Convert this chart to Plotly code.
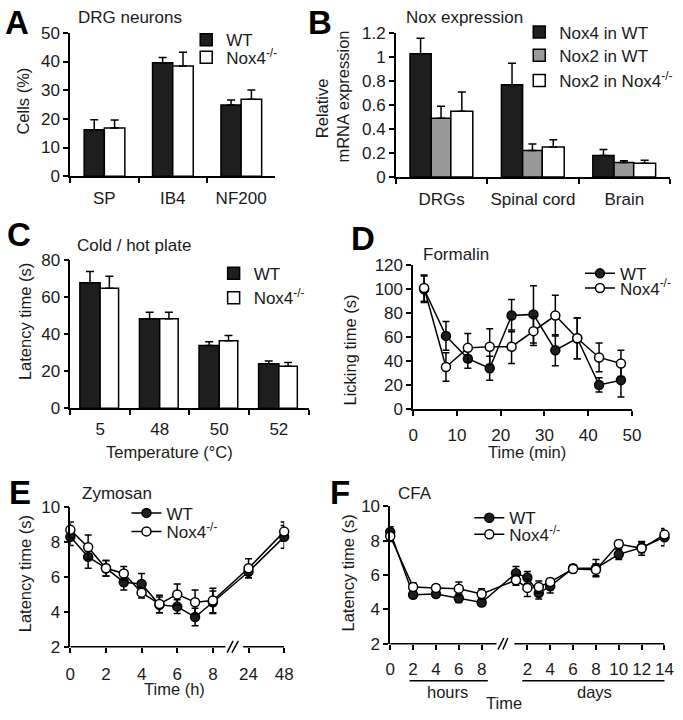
import plotly.graph_objects as go

# ---------------- data ----------------
# Panel A: DRG neurons
A_categories = ["SP", "IB4", "NF200"]
A_wt = [16.2, 39.6, 24.8]
A_wt_err = [3.5, 1.8, 1.8]
A_ko = [16.8, 38.4, 26.8]
A_ko_err = [2.8, 4.8, 3.3]

# Panel B: Nox expression
B_categories = ["DRGs", "Spinal cord", "Brain"]
B_nox4_wt = [1.03, 0.77, 0.18]
B_nox4_wt_err = [0.13, 0.18, 0.05]
B_nox2_wt = [0.49, 0.22, 0.12]
B_nox2_wt_err = [0.10, 0.055, 0.015]
B_nox2_ko = [0.55, 0.25, 0.115]
B_nox2_ko_err = [0.16, 0.06, 0.025]

# Panel C: Cold / hot plate
C_categories = ["5", "48", "50", "52"]
C_wt = [68, 48.5, 34, 24]
C_wt_err = [6, 3.5, 2, 1.5]
C_ko = [65, 48.5, 36.5, 22.7]
C_ko_err = [6.5, 3.5, 2.8, 2]

# Panel D: Formalin
D_time = [2.5, 7.5, 12.5, 17.5, 22.5, 27.5, 32.5, 37.5, 42.5, 47.5]
D_wt = [100, 61, 42, 34, 78, 79, 49, 59, 20, 24]
D_wt_err = [11, 12, 8, 10, 13.5, 24, 13, 17, 6, 14]
D_ko = [101, 35, 51, 52, 52, 65, 78, 59, 43, 38]
D_ko_err = [11, 12, 12, 15, 14, 12, 17, 17, 12, 11]

# Panel E: Zymosan (hours)
E_time = [0, 1, 2, 3, 4, 5, 6, 7, 8, 24, 48]
E_wt = [8.3, 7.15, 6.5, 5.7, 5.6, 4.4, 4.3, 3.7, 4.55, 6.3, 8.3]
E_wt_err = [0.5, 0.65, 0.45, 0.45, 0.6, 0.45, 0.4, 0.5, 0.65, 0.35, 0.65]
E_ko = [8.7, 7.7, 6.5, 6.2, 5.1, 4.45, 5.0, 4.55, 4.65, 6.5, 8.6]
E_ko_err = [0.45, 0.7, 0.45, 0.4, 0.3, 0.5, 0.6, 0.7, 0.7, 0.55, 0.55]
E_tick_labels = [0, 2, 4, 6, 8, 24, 48]

# Panel F: CFA (hours then days)
F_hours = [0, 2, 4, 6, 8]
F_days = [1, 2, 3, 4, 6, 8, 10, 12, 14]
F_wt = [8.5, 4.85, 4.9, 4.65, 4.4, 6.1, 5.85, 4.95, 5.35, 6.4, 6.4, 7.2, 7.6, 8.2]
F_wt_err = [0.3, 0.2, 0.2, 0.25, 0.2, 0.4, 0.35, 0.35, 0.4, 0.2, 0.5, 0.3, 0.3, 0.5]
F_ko = [8.25, 5.3, 5.25, 5.2, 4.9, 5.7, 5.25, 5.3, 5.6, 6.35, 6.3, 7.8, 7.55, 8.35]
F_ko_err = [0.3, 0.25, 0.15, 0.4, 0.3, 0.3, 0.5, 0.35, 0.2, 0.2, 0.35, 0.2, 0.4, 0.25]
F_hour_ticks = [0, 2, 4, 6, 8]
F_day_ticks = [2, 4, 6, 8, 10, 12, 14]

# ---------------- helpers ----------------
W, H = 683, 720
def px(x):
    return x / W
def py(y):
    return 1 - y / H

FONT = "Arial, 'Liberation Sans', Helvetica, sans-serif"
TXT = "#1a1a1a"
DARK = "#1e1e1e"
GRAY = "#999999"
SUP = "Nox4<sup>-/-</sup>"

# broken-axis positions (layout mapping of time values to axis positions)
E_break_pos = {24: 10, 48: 12}
def e_pos(t):
    return t if t <= 8 else E_break_pos[t]
E_x = [e_pos(t) for t in E_time]
DAY_OFFSET = 10
F_x = list(F_hours) + [DAY_OFFSET + d for d in F_days]

fig = go.Figure()

def bar(x, y, err, color, name, xa, ya, offset, width, legend):
    fig.add_trace(go.Bar(
        x=x, y=y, name=name, xaxis=xa, yaxis=ya, offset=offset, width=width,
        marker=dict(color=color, line=dict(color="black", width=1.5)),
        error_y=dict(type="data", array=err, arrayminus=[0] * len(err), symmetric=False,
                     color="black", thickness=1.5, width=4),
        legend=legend, showlegend=True))

def line(x, y, err, filled, name, xa, ya, legend):
    fig.add_trace(go.Scatter(
        x=x, y=y, name=name, xaxis=xa, yaxis=ya, mode="lines+markers",
        line=dict(color="black", width=1.5),
        marker=dict(size=9, color=DARK if filled else "white", line=dict(color="black", width=1.5)),
        error_y=dict(type="data", array=err, color="black", thickness=1.5, width=3.5),
        cliponaxis=False, legend=legend, showlegend=True))

# A
bar(A_categories, A_wt, A_wt_err, DARK, "WT", "x", "y", -0.295, 0.295, "legend")
bar(A_categories, A_ko, A_ko_err, "white", SUP, "x", "y", 0.0, 0.3, "legend2")
# B
bar(B_categories, B_nox4_wt, B_nox4_wt_err, DARK, "Nox4 in WT", "x2", "y2", -0.345, 0.232, "legend3")
bar(B_categories, B_nox2_wt, B_nox2_wt_err, GRAY, "Nox2 in WT", "x2", "y2", -0.113, 0.215, "legend4")
bar(B_categories, B_nox2_ko, B_nox2_ko_err, "white", "Nox2 in " + SUP, "x2", "y2", 0.102, 0.24, "legend5")
# C
bar(C_categories, C_wt, C_wt_err, DARK, "WT", "x3", "y3", -0.34, 0.34, "legend6")
bar(C_categories, C_ko, C_ko_err, "white", SUP, "x3", "y3", 0.0, 0.31, "legend7")
# D
line(D_time, D_wt, D_wt_err, True, "WT", "x4", "y4", "legend8")
line(D_time, D_ko, D_ko_err, False, SUP, "x4", "y4", "legend9")
# E
line(E_x, E_wt, E_wt_err, True, "WT", "x5", "y5", "legend10")
line(E_x, E_ko, E_ko_err, False, SUP, "x5", "y5", "legend11")
# F
line(F_x, F_wt, F_wt_err, True, "WT", "x6", "y6", "legend12")
line(F_x, F_ko, F_ko_err, False, SUP, "x6", "y6", "legend13")

axbase = dict(showline=True, linecolor="black", linewidth=1.5, ticks="outside", ticklen=5,
              tickwidth=1.5, tickcolor="black", showgrid=False, zeroline=False, tickangle=0,
              tickfont=dict(size=17, color=TXT, family=FONT), fixedrange=True)

def xa(domain, **kw):
    d = dict(axbase); d.update(domain=[px(domain[0]), px(domain[1])]); d.update(kw); return d
def ya(domain, **kw):
    d = dict(axbase); d.update(domain=[py(domain[0]), py(domain[1])]); d.update(kw); return d

layout = dict(
    width=W, height=H, margin=dict(l=0, r=0, t=0, b=0),
    paper_bgcolor="white", plot_bgcolor="white", barmode="overlay",
    font=dict(family=FONT, size=17, color=TXT),
    xaxis=xa((66.5, 276), type="category", range=[-0.5, 2.5], tickson="boundaries", anchor="y", ticklabelstandoff=6),
    yaxis=ya((171.7, 24.5), range=[0, 50], dtick=10, anchor="x"),
    xaxis2=xa((399, 679), type="category", range=[-0.5, 2.5], tickson="boundaries", anchor="y2", ticklabelstandoff=6),
    yaxis2=ya((172.5, 25), range=[0, 1.2], dtick=0.2, anchor="x2"),
    xaxis3=xa((66.7, 310), type="category", range=[-0.5, 3.5], tickson="boundaries", anchor="y3", ticklabelstandoff=5),
    yaxis3=ya((410, 258.3), range=[0, 80], dtick=20, anchor="x3"),
    xaxis4=xa((416.7, 640), range=[0, 50], dtick=10, anchor="y4", ticklabelstandoff=5),
    yaxis4=ya((410.7, 263.3), range=[0, 120], dtick=20, anchor="x4"),
    xaxis5=xa((66.7, 285), range=[0, 12], showline=False, anchor="y5",
              tickvals=[e_pos(t) for t in E_tick_labels], ticktext=[str(t) for t in E_tick_labels], ticklabelstandoff=7),
    yaxis5=ya((655, 511.7), range=[2, 10], dtick=2, anchor="x5"),
    xaxis6=xa((393.3, 673.3), range=[0, 24], showline=False, anchor="y6",
              tickvals=F_hour_ticks + [DAY_OFFSET + d for d in F_day_ticks],
              ticktext=[str(t) for t in F_hour_ticks] + [str(d) for d in F_day_ticks], ticklabelstandoff=5),
    yaxis6=ya((652, 510.7), range=[2, 10], dtick=2, anchor="x6"),
)

# legends: one per entry (legend left edge x, row centre y)
leg_specs = {
    "legend": (185, 32), "legend2": (185, 50),
    "legend3": (525, 24), "legend4": (525, 48), "legend5": (525, 74),
    "legend6": (213, 272), "legend7": (213, 297),
    "legend8": (587, 272), "legend9": (587, 287),
    "legend10": (124, 518), "legend11": (124, 537),
    "legend12": (474, 523), "legend13": (474, 540),
}
for k, (lx, ty) in leg_specs.items():
    layout[k] = dict(x=px(lx), y=py(ty), xanchor="left", yanchor="middle",
                     bgcolor="rgba(0,0,0,0)", borderwidth=0,
                     font=dict(size=17, color=TXT, family=FONT), itemwidth=30)

ann = []
def text(x, y, s, size=17, bold=False, angle=0):
    ann.append(dict(x=px(x), y=py(y), xref="paper", yref="paper", text=("<b>%s</b>" % s) if bold else s,
                    showarrow=False, textangle=angle, xanchor="center", yanchor="middle",
                    font=dict(size=size, color="black" if bold else TXT, family=FONT)))

for letter, (x, y) in {"A": (12.5, 14), "B": (322, 14), "C": (14, 232), "D": (365, 236),
                       "E": (15, 497), "F": (342, 497)}.items():
    text(x, y, letter, size=33, bold=True)

text(128, 9, "DRG neurons")
text(469, 9, "Nox expression")
text(132, 243, "Cold / hot plate")
text(460, 252, "Formalin")
text(114, 498, "Zymosan")
text(419, 498, "CFA")

text(18.5, 95, "Cells (%)", size=16.5, angle=-90)
text(323.5, 102, "Relative", size=16.5, angle=-90)
text(345, 90, "mRNA expression", size=16.5, angle=-90)
text(20, 321, "Latency time (s)", size=16.5, angle=-90)
text(352, 350, "Licking time (s)", size=16.5, angle=-90)
text(20, 580, "Latency time (s)", size=16.5, angle=-90)
text(350, 579, "Latency time (s)", size=16.5, angle=-90)

text(168, 455, "Temperature (°C)", size=16.5)
text(533, 455, "Time (min)", size=16.5)
text(173, 698, "Time (h)", size=16.5)
text(452, 702, "hours", size=16.5)
text(602, 702, "days", size=16.5)
text(509, 713, "Time", size=16.5)

layout["annotations"] = ann

# broken x-axes and F underlines (axis decoration)
shapes = []
def seg(xref, yref, x0, x1, y0, y1):
    shapes.append(dict(type="line", xref=xref, yref=yref, x0=x0, x1=x1, y0=y0, y1=y1,
                       line=dict(color="black", width=1.5)))
# E
seg("x5", "y5 domain", 0, 8.7, 0, 0)
seg("x5", "y5 domain", 9.7, 12, 0, 0)
seg("x5", "y5 domain", 8.8, 9.13, -0.042, 0.042)
seg("x5", "y5 domain", 9.07, 9.43, -0.042, 0.042)
# F
seg("x6", "y6 domain", 0, 9.29, 0, 0)
seg("x6", "y6 domain", 10.86, 24, 0, 0)
seg("x6", "y6 domain", 9.43, 9.94, -0.042, 0.042)
seg("x6", "y6 domain", 9.86, 10.29, -0.042, 0.042)
seg("x6", "paper", 1.69, 8.54, py(690), py(690))
seg("x6", "paper", 11.55, 24.17, py(690), py(690))
layout["shapes"] = shapes

fig.update_layout(**layout)
fig.write_html("out.html", config={"displayModeBar": False},
               post_script="document.body.style.margin='0';document.body.style.overflow='hidden';")
